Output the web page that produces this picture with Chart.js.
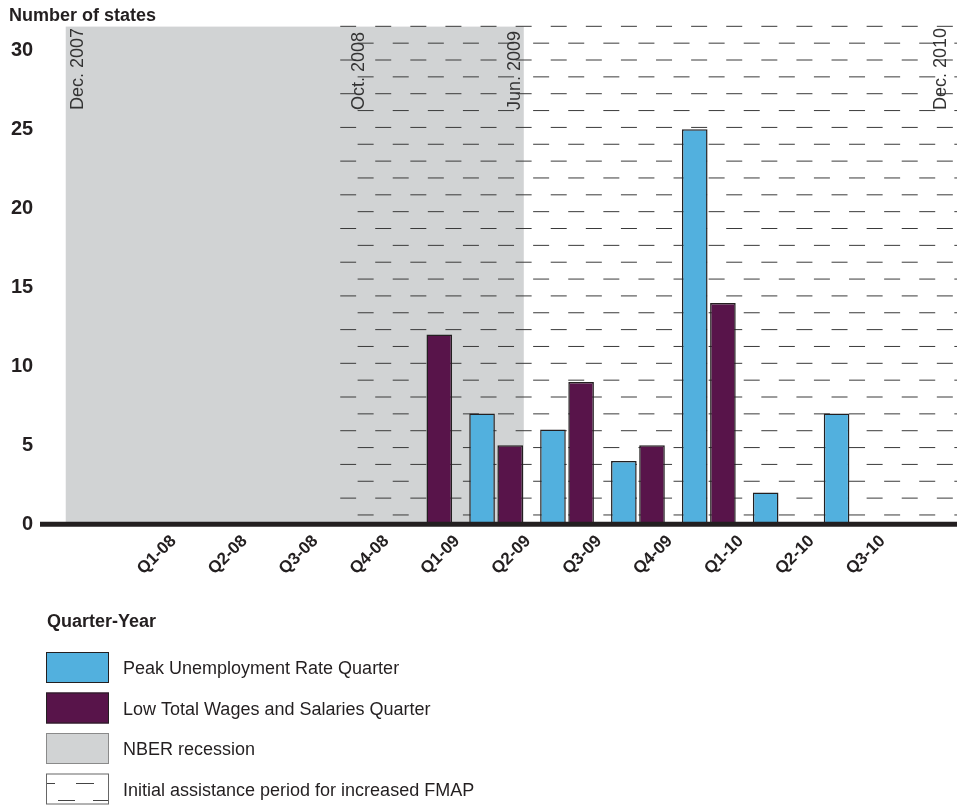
<!DOCTYPE html>
<html>
<head>
<meta charset="utf-8">
<script src="https://cdn.jsdelivr.net/npm/chart.js@4.4.1/dist/chart.umd.min.js"></script>
<style>
  html, body { margin: 0; padding: 0; background: #fff; }
  #wrap { width: 967px; height: 806px; }
</style>
</head>
<body>
<div id="wrap"><canvas id="myChart" width="967" height="806"></canvas></div>
<script>
// quarters (blank slot at each end of the axis)
const quarters = ["", "Q1-08", "Q2-08", "Q3-08", "Q4-08", "Q1-09", "Q2-09", "Q3-09", "Q4-09", "Q1-10", "Q2-10", "Q3-10", ""];
const peakUnemployment = [null, 0, 0, 0, 0, 0, 7, 6, 4, 25, 2, 7, null];
const lowWages = [null, 0, 0, 0, 0, 12, 5, 9, 5, 14, 0, 0, null];
const yTicks = [0, 5, 10, 15, 20, 25, 30];

// periods on the category axis (fractional slot index)
const recession = [-0.07, 6.39];
const fmapPeriod = [3.8, 12.5];
const markerLabels = ["Dec. 2007", "Oct. 2008", "Jun. 2009", "Dec. 2010"];
const markerPos = [0.18, 4.14, 6.34, 12.35];

const INK = "#231f20";
const BLUE = "#52b0de";
const PURPLE = "#58144a";
const GRAY = "#d1d3d4";
const FONT = "'Liberation Sans', Arial, sans-serif";

function dashRows(ctx, left, right, top, bottom) {
  // brick pattern of short dashes
  const gap = 16.85, period = 35.1, len = 16;
  ctx.strokeStyle = "#3a3a3a";
  ctx.lineWidth = 1;
  let k = 0;
  for (let y = bottom - 9.2; y >= top - 2; y -= gap, k++) {
    const start = k % 2 === 0 ? left + 17.5 : left;
    ctx.beginPath();
    for (let x = start; x < right; x += period) {
      ctx.moveTo(x, y);
      ctx.lineTo(Math.min(x + len, right), y);
    }
    ctx.stroke();
  }
}

const backdrop = {
  id: "backdrop",
  beforeDatasetsDraw(chart) {
    const { ctx, chartArea, scales } = chart;
    const x = scales.x;
    const top = chartArea.top, bottom = chartArea.bottom;
    ctx.save();
    const g0 = x.getPixelForValue(recession[0]);
    const g1 = x.getPixelForValue(recession[1]);
    ctx.fillStyle = GRAY;
    ctx.fillRect(g0, top, g1 - g0, bottom - top);

    const d0 = x.getPixelForValue(fmapPeriod[0]);
    const d1 = Math.min(x.getPixelForValue(fmapPeriod[1]), chartArea.right);
    ctx.beginPath();
    ctx.rect(d0, top - 3, d1 - d0, bottom - top + 3);
    ctx.clip();
    dashRows(ctx, d0, d1, top, bottom);
    ctx.restore();

    ctx.save();
    ctx.fillStyle = "#333";
    ctx.font = "18px " + FONT;
    ctx.textAlign = "left";
    ctx.textBaseline = "alphabetic";
    markerLabels.forEach((t, i) => {
      ctx.save();
      ctx.translate(x.getPixelForValue(markerPos[i]), 110);
      ctx.rotate(-Math.PI / 2);
      ctx.fillText(t, 0, 0);
      ctx.restore();
    });
    ctx.restore();
  },
  afterDatasetsDraw(chart) {
    // heavy baseline
    const { ctx, chartArea } = chart;
    ctx.save();
    ctx.strokeStyle = INK;
    ctx.lineWidth = 5;
    ctx.beginPath();
    ctx.moveTo(40, chartArea.bottom);
    ctx.lineTo(chartArea.right, chartArea.bottom);
    ctx.stroke();
    ctx.restore();
  },
};

const legendBox = {
  id: "legendBox",
  afterDraw(chart) {
    const ctx = chart.ctx;
    ctx.save();
    ctx.fillStyle = INK;
    ctx.font = "bold 18px " + FONT;
    ctx.textBaseline = "middle";
    ctx.fillText("Quarter-Year", 47, 622);

    const items = [
      { text: chart.data.datasets[0].label, fill: BLUE },
      { text: chart.data.datasets[1].label, fill: PURPLE },
      { text: "NBER recession", fill: GRAY },
      { text: "Initial assistance period for increased FMAP", fill: null },
    ];
    items.forEach((it, i) => {
      const y = 652 + i * 40.5;
      const bx = 46, bw = 63, bh = 31;
      if (it.fill) {
        ctx.fillStyle = it.fill;
        ctx.fillRect(bx, y, bw, bh);
        ctx.strokeStyle = it.fill === GRAY ? "#8a8a8a" : INK;
        ctx.lineWidth = 1;
        ctx.strokeRect(bx + 0.5, y + 0.5, bw - 1, bh - 1);
      } else {
        ctx.strokeStyle = "#666";
        ctx.lineWidth = 1;
        ctx.strokeRect(bx + 0.5, y + 0.5, bw - 1, bh - 1);
        ctx.strokeStyle = "#444";
        ctx.beginPath();
        ctx.moveTo(bx + 1, y + 10); ctx.lineTo(bx + 9, y + 10);
        ctx.moveTo(bx + 30, y + 10); ctx.lineTo(bx + 48, y + 10);
        ctx.moveTo(bx + 12, y + 27); ctx.lineTo(bx + 29, y + 27);
        ctx.moveTo(bx + 47, y + 27); ctx.lineTo(bx + 62, y + 27);
        ctx.stroke();
      }
      ctx.fillStyle = INK;
      ctx.font = "18px " + FONT;
      ctx.textBaseline = "middle";
      ctx.fillText(it.text, 123, y + bh / 2 + 2);
    });
    ctx.restore();
  },
};

const ctx = document.getElementById("myChart").getContext("2d");

const myChart = new Chart(ctx, {
  type: "bar",
  data: {
    labels: quarters,
    datasets: [
      {
        label: "Peak Unemployment Rate Quarter",
        data: peakUnemployment,
        backgroundColor: BLUE,
        borderColor: INK,
        borderWidth: 1.5,
        categoryPercentage: 0.794,
        barPercentage: 0.91,
      },
      {
        label: "Low Total Wages and Salaries Quarter",
        data: lowWages,
        backgroundColor: PURPLE,
        borderColor: INK,
        borderWidth: 1.5,
        categoryPercentage: 0.794,
        barPercentage: 0.91,
      },
    ],
  },
  options: {
    responsive: false,
    animation: false,
    layout: {
      padding: { left: 9, right: 10, top: 0, bottom: 220 },
    },
    scales: {
      x: {
        grid: { display: false, drawTicks: false },
        border: { display: false },
        ticks: {
          color: INK,
          font: { size: 17, weight: "bold", family: FONT },
          minRotation: 45,
          maxRotation: 45,
          autoSkip: false,
          labelOffset: 32,
          padding: 7,
        },
      },
      y: {
        min: 0,
        max: 31.5,
        grid: { display: false, drawTicks: false },
        border: { display: false },
        afterBuildTicks: (axis) => {
          axis.ticks = yTicks.map((v) => ({ value: v }));
        },
        ticks: {
          color: INK,
          font: { size: 20, weight: "bold", family: FONT },
          padding: 2,
        },
      },
    },
    plugins: {
      title: {
        display: true,
        text: "Number of states",
        align: "start",
        color: INK,
        font: { size: 18, weight: "bold", family: FONT },
        padding: { top: 5, bottom: 0 },
      },
      legend: { display: false },
      tooltip: { enabled: false },
    },
  },
  plugins: [backdrop, legendBox],
});
</script>
</body>
</html>
